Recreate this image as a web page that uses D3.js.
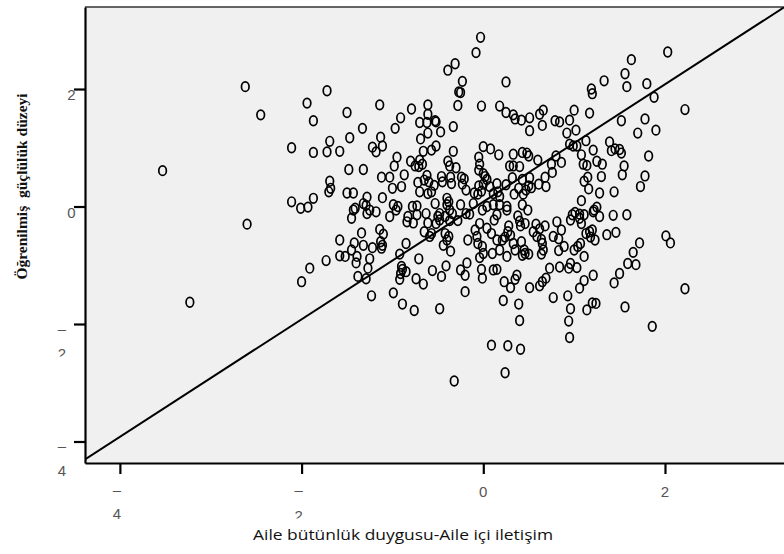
<!DOCTYPE html>
<html>
<head>
<meta charset="utf-8">
<script src="https://cdn.jsdelivr.net/npm/d3@7"></script>
<style>
  html, body { margin: 0; padding: 0; background: #fff; }
  svg { display: block; }
  .tick-label { font-family: "Liberation Sans", Arial, sans-serif; font-size: 15px; fill: #555; }
  .x-title { font-family: "Open Sans", sans-serif; font-size: 15px; fill: #111; }
  .y-title { font-family: "Liberation Serif", "Times New Roman", serif; font-size: 15.5px; font-weight: bold; fill: #111; white-space: pre; }
</style>
</head>
<body>
<div id="chart"></div>
<script>
// x: Aile bütünlük duygusu-Aile içi iletişim, y: Öğrenilmiş güçlülük düzeyi
const pointsSparse = [
  [-3.53, 0.61], [-3.23, -1.63], [-2.62, 2.04], [-2.45, 1.56], [-2.60, -0.30],
  [-2.11, 1.00], [-1.94, 1.76], [-1.72, 1.97], [-1.87, 1.46], [-1.87, 0.92],
  [-1.72, 0.93], [-1.69, 1.11], [-2.11, 0.08], [-2.01, -0.03], [-1.93, -0.01],
  [-1.87, 0.14], [-2.00, -1.28], [-1.91, -1.05], [-1.73, -0.92], [-1.69, 0.43],
  [-1.68, 0.31], [-1.70, 0.25]
];
const pointsUpperLeft = [
  [-0.03, 2.88], [-0.08, 2.62], [-0.31, 2.43], [-0.39, 2.32], [-0.23, 2.13],
  [-0.27, 1.95], [-0.25, 1.94], [-0.28, 1.72], [-0.02, 1.71], [0.18, 1.71],
  [-1.14, 1.73], [-1.50, 1.60], [-0.79, 1.66], [-0.61, 1.73], [-0.91, 1.51],
  [-0.61, 1.57], [-0.70, 1.43], [-0.62, 1.43], [-0.53, 1.46], [-0.52, 1.44],
  [-0.97, 1.33], [-1.33, 1.33], [-0.33, 1.36], [-0.47, 1.27], [-0.61, 1.25],
  [-0.69, 1.15], [-1.13, 1.18], [-1.47, 1.17], [-1.22, 1.01], [-1.11, 1.03],
  [-1.18, 0.93], [-1.58, 0.94], [-0.52, 1.03], [-0.57, 0.96], [-0.66, 0.94],
  [-0.33, 0.94], [0.00, 1.02], [0.08, 0.98], [0.17, 0.88], [-0.05, 0.84],
  [-0.95, 0.84], [-0.98, 0.69], [-0.80, 0.77], [-0.70, 0.79], [-0.67, 0.72],
  [-0.71, 0.68], [-0.75, 0.69], [-0.39, 0.77], [-0.37, 0.69], [-0.30, 0.66],
  [-0.04, 0.72], [-0.05, 0.62], [0.00, 0.56], [-1.48, 0.63], [-1.32, 0.63],
  [-1.12, 0.50], [-1.03, 0.50], [-0.87, 0.54], [-0.62, 0.53], [-0.65, 0.45],
  [-0.60, 0.42], [-0.72, 0.41], [-0.46, 0.51], [-0.45, 0.42], [-0.36, 0.50],
  [-0.35, 0.39], [-0.24, 0.50], [-0.21, 0.47], [-0.23, 0.38], [-0.19, 0.28],
  [0.02, 0.51], [0.04, 0.46], [0.15, 0.39], [-0.05, 0.35], [0.00, 0.38],
  [0.07, 0.34], [-0.90, 0.34], [-1.00, 0.31], [-0.54, 0.36], [-0.57, 0.25],
  [-0.61, 0.22], [-0.70, 0.25], [-1.50, 0.23], [-1.43, 0.23], [-1.28, 0.16],
  [-1.11, 0.15], [-0.10, 0.23], [-0.06, 0.21], [-0.02, 0.26], [0.11, 0.22],
  [0.16, 0.25], [0.18, 0.17], [-0.40, 0.14], [-0.38, 0.08]
];
const pointsUpperRight = [
  [2.03, 2.63], [1.63, 2.50], [1.56, 2.26], [1.33, 2.14], [1.58, 2.04],
  [1.80, 2.09], [1.88, 1.86], [1.19, 2.00], [1.20, 1.92], [0.25, 2.12],
  [2.22, 1.65], [0.25, 1.60], [0.33, 1.56], [0.35, 1.49], [0.42, 1.47],
  [0.51, 1.51], [0.51, 1.29], [0.62, 1.57], [0.66, 1.64], [0.65, 1.38],
  [0.79, 1.46], [0.84, 1.44], [0.95, 1.47], [1.00, 1.64], [1.17, 1.59],
  [1.02, 1.30], [0.92, 1.25], [1.52, 1.46], [1.78, 1.49], [1.70, 1.25],
  [1.90, 1.30], [0.95, 1.06], [0.99, 1.03], [1.03, 1.03], [1.13, 1.12],
  [1.21, 0.96], [1.39, 1.10], [1.41, 0.95], [1.45, 0.98], [1.50, 0.97],
  [1.52, 0.91], [1.08, 0.88], [1.10, 0.72], [1.14, 0.70], [1.25, 0.77],
  [1.31, 0.72], [1.82, 0.86], [1.55, 0.69], [1.53, 0.54], [1.78, 0.52],
  [1.73, 0.34], [1.30, 0.51], [1.28, 0.23], [1.44, 0.25], [1.15, 0.50],
  [1.11, 0.43], [1.16, 0.30], [0.80, 0.86], [0.75, 0.72], [0.86, 0.75],
  [0.60, 0.79], [0.33, 0.89], [0.43, 0.92], [0.48, 0.91], [0.50, 0.86],
  [0.29, 0.69], [0.33, 0.69], [0.40, 0.68], [0.32, 0.49], [0.43, 0.46],
  [0.51, 0.49], [0.68, 0.50], [0.76, 0.58], [0.61, 0.38], [0.69, 0.34],
  [0.50, 0.35], [0.47, 0.28], [0.44, 0.21], [0.53, 0.32], [0.25, 0.37],
  [0.34, 0.21], [0.39, 0.31]
];
const pointsLowerRight = [
  [1.08, 0.10], [0.18, 0.03], [0.26, 0.00], [0.26, -0.06], [0.43, 0.03],
  [0.49, -0.06], [0.38, -0.16], [0.40, -0.25], [0.46, -0.29], [0.41, -0.33],
  [0.28, -0.33], [0.27, -0.43], [0.24, -0.52], [0.21, -0.57], [0.30, -0.49],
  [0.33, -0.63], [0.35, -0.74], [0.26, -0.85], [0.18, -0.74], [0.42, -0.60],
  [0.45, -0.74], [0.46, -0.80], [0.50, -0.81], [0.43, -0.83], [0.58, -0.30],
  [0.55, -0.43], [0.59, -0.51], [0.62, -0.38], [0.68, -0.33], [0.64, -0.56],
  [0.65, -0.63], [0.66, -0.74], [0.64, -0.81], [0.77, -0.51], [0.83, -0.55],
  [0.86, -0.40], [0.81, -0.26], [0.89, -0.68], [0.83, -0.75], [0.98, -0.14],
  [0.96, -0.23], [1.01, -0.10], [1.06, -0.13], [1.08, -0.29], [1.06, -0.20],
  [1.11, -0.14], [1.21, -0.09], [1.28, -0.17], [1.25, -0.01], [1.22, -0.06],
  [1.13, -0.46], [1.17, -0.43], [1.18, -0.52], [1.20, -0.40], [1.23, -0.57],
  [1.07, -0.63], [1.04, -0.68], [1.00, -0.74], [1.36, -0.48], [1.46, -0.44],
  [1.43, -0.15], [1.58, -0.14], [1.11, -0.85], [0.73, -1.05], [0.84, -1.03],
  [0.94, -1.05], [1.03, -1.04], [0.96, -0.97], [0.37, -1.17], [0.35, -1.24],
  [0.30, -1.38], [0.23, -1.28], [0.51, -1.38], [0.62, -1.35], [0.65, -1.28],
  [0.69, -1.22], [1.21, -1.17], [1.11, -1.26], [1.06, -1.39], [0.77, -1.55],
  [0.93, -1.52], [0.22, -1.60], [0.39, -1.66], [0.96, -1.74], [0.94, -1.95],
  [0.95, -2.23], [1.14, -1.76], [1.20, -1.64], [1.24, -1.65], [0.40, -1.94],
  [0.27, -2.37], [0.41, -2.43], [0.24, -2.83], [1.72, -0.62], [1.65, -0.78],
  [1.59, -0.97], [1.68, -0.99], [1.50, -1.14], [1.44, -1.30], [2.01, -0.50],
  [2.06, -0.62], [2.22, -1.40], [1.56, -1.71], [1.86, -2.04]
];
const pointsLowerLeft = [
  [-1.58, -0.57], [-1.58, -0.84], [-1.52, -0.85], [-1.45, -0.74], [-1.42, -0.62],
  [-1.40, -0.96], [-1.39, -0.85], [-1.34, -0.45], [-1.32, -0.66], [-1.25, -0.89],
  [-1.22, -0.70], [-1.27, -1.05], [-1.29, -1.23], [-1.38, -1.19], [-1.23, -1.52],
  [-1.14, -0.39], [-1.10, -0.47], [-1.13, -0.60], [-1.11, -0.66], [-1.12, -0.71],
  [-0.85, -0.63], [-0.92, -0.81], [-0.71, -0.89], [-0.90, -1.02], [-0.89, -1.07],
  [-0.91, -1.14], [-0.92, -1.24], [-0.85, -1.11], [-0.74, -1.23], [-0.66, -1.32],
  [-0.99, -1.47], [-0.89, -1.66], [-0.76, -1.77], [-0.48, -1.74], [-0.56, -1.09],
  [-0.46, -1.19], [-0.41, -1.01], [-0.65, -0.43], [-0.59, -0.51], [-0.57, -0.46],
  [-0.44, -0.66], [-0.40, -0.57], [-0.36, -0.76], [-0.42, -0.46], [-0.38, -0.51],
  [-0.52, -0.29], [-0.48, -0.23], [-0.42, -0.17], [-0.37, -0.24], [-0.34, -0.12],
  [-0.28, -0.24], [-0.25, -1.08], [-0.20, -1.45], [-0.18, -0.96], [-0.20, -1.17],
  [-0.17, -0.57], [-0.07, -0.51], [-0.06, -0.63], [-0.01, -0.68], [0.00, -0.80],
  [-0.04, -0.87], [-0.09, -0.40], [-0.04, -0.29], [0.04, -0.37], [0.09, -0.46],
  [0.10, -0.80], [0.15, -0.57], [0.12, -0.23], [-0.02, -1.07], [-0.01, -1.22],
  [0.11, -1.08], [0.15, -1.07], [0.09, -2.36], [-0.32, -2.97], [-1.28, -0.12],
  [-1.25, -0.06], [-1.18, -0.09], [-1.03, -0.17], [-0.83, -0.17], [-0.84, -0.26],
  [-0.77, -0.28], [-0.73, -0.14], [-0.63, -0.12], [-0.61, -0.28], [-0.50, -0.17],
  [-0.48, -0.12], [-0.37, -0.06], [-0.19, -0.12], [-0.15, -0.13], [-0.01, -0.06],
  [0.15, -0.14], [-1.41, -0.03], [-1.43, -0.06], [-1.32, 0.05], [-0.99, 0.03],
  [-0.96, -0.06], [-0.94, 0.00], [-0.78, 0.00], [-0.73, 0.01], [-0.53, 0.05],
  [-0.40, 0.03], [-0.25, 0.03], [-0.11, 0.05], [0.04, 0.00], [0.11, 0.03],
  [-1.45, -0.20], [-1.29, 0.02]
];
const allPoints = [].concat(pointsSparse, pointsUpperLeft, pointsUpperRight, pointsLowerRight, pointsLowerLeft);

const xTicks = [-4, -2, 0, 2];
const yTicks = [2, 0, -2, -4];
const refLine = { intercept: 0.08, slope: 1 };
const xTitle = 'Aile bütünlük duygusu-Aile içi iletişim';
const yTitle = 'Öğrenilmiş  güçlülük düzeyi';

const W = 784;
const H = 554;
const plotLeft = 85;
const plotRight = 784;
const plotTop = 7;
const plotBottom = 463;

const x = d3.scaleLinear().domain([-4.384, 3.31]).range([plotLeft, plotRight]);
const y = d3.scaleLinear().domain([-4.366, 3.396]).range([plotBottom, plotTop]);

const svg = d3.select('#chart').append('svg').attr('width', W).attr('height', H);

const defs = svg.append('defs');
defs.append('clipPath').attr('id', 'plot-clip')
  .append('rect')
  .attr('x', plotLeft).attr('y', plotTop)
  .attr('width', plotRight - plotLeft).attr('height', plotBottom - plotTop);

// plot background
svg.append('rect')
  .attr('x', plotLeft).attr('y', plotTop)
  .attr('width', plotRight - plotLeft).attr('height', plotBottom - plotTop)
  .attr('fill', '#f0f0f0');

// top frame
svg.append('line')
  .attr('x1', plotLeft).attr('x2', plotRight)
  .attr('y1', plotTop).attr('y2', plotTop)
  .attr('stroke', '#333').attr('stroke-width', 1.5);

const $vis = svg.append('g').attr('clip-path', 'url(#plot-clip)');

// reference line
const [xd0, xd1] = x.domain();
$vis.append('line')
  .attr('x1', x(xd0)).attr('y1', y(refLine.intercept + refLine.slope * xd0))
  .attr('x2', x(xd1)).attr('y2', y(refLine.intercept + refLine.slope * xd1))
  .attr('stroke', '#000').attr('stroke-width', 2);

$vis.selectAll('ellipse')
  .data(allPoints)
  .join('ellipse')
  .attr('cx', d => x(d[0]))
  .attr('cy', d => y(d[1]))
  .attr('rx', 3.8)
  .attr('ry', 4.8)
  .attr('fill', 'none')
  .attr('stroke', '#000')
  .attr('stroke-width', 1.7);

// axes
const $xAxis = svg.append('g')
  .attr('transform', `translate(0,${plotBottom})`)
  .call(d3.axisBottom(x).tickValues(xTicks).tickSize(11).tickSizeOuter(0).tickFormat(''));
const $yAxis = svg.append('g')
  .attr('transform', `translate(${plotLeft},0)`)
  .call(d3.axisLeft(y).tickValues(yTicks).tickSize(11).tickSizeOuter(0).tickFormat(''));
[$xAxis, $yAxis].forEach($a => {
  $a.select('.domain').attr('stroke', '#000').attr('stroke-width', 2.2);
  $a.selectAll('.tick line').attr('stroke', '#000').attr('stroke-width', 2.2);
});

// tick labels: the minus sign wraps onto its own line, like the original
const $labels = svg.append('g').attr('class', 'tick-label');
let clipId = 0;
function digitClip(cx, bottom) {
  const id = `digit-clip-${clipId++}`;
  defs.append('clipPath').attr('id', id)
    .append('rect').attr('x', cx - 10).attr('y', bottom - 20).attr('width', 20).attr('height', 20);
  return `url(#${id})`;
}

xTicks.forEach(v => {
  const px = x(v);
  if (v < 0) {
    $labels.append('text').attr('x', px - 3).attr('y', 495).attr('text-anchor', 'middle').text('–');
    const base = v === -2 ? 521 : 518.5;
    const $t = $labels.append('text').attr('x', px - 3).attr('y', base).attr('text-anchor', 'middle').text(Math.abs(v));
    if (v === -2) $t.attr('clip-path', digitClip(px - 3, 518.5));
  } else {
    $labels.append('text').attr('x', px).attr('y', 496.5).attr('text-anchor', 'middle').text(v);
  }
});

yTicks.forEach(v => {
  const py = y(v);
  if (v < 0) {
    $labels.append('text').attr('x', 62).attr('y', py + 9.5).attr('text-anchor', 'middle').text('–');
    const $t = $labels.append('text').attr('x', 62).attr('y', py + 34.5).attr('text-anchor', 'middle').text(Math.abs(v));
    if (v === -2) $t.attr('clip-path', digitClip(62, py + 32.5));
  } else {
    $labels.append('text').attr('x', 75.5).attr('y', py + 11).attr('text-anchor', 'end').text(v);
  }
});

// titles
svg.append('text')
  .attr('class', 'x-title')
  .attr('x', 403).attr('y', 540)
  .attr('text-anchor', 'middle')
  .attr('textLength', 300)
  .attr('lengthAdjust', 'spacingAndGlyphs')
  .text(xTitle);

svg.append('text')
  .attr('class', 'y-title')
  .attr('transform', 'translate(27,186.5) rotate(-90)')
  .attr('text-anchor', 'middle')
  .text(yTitle);
</script>
</body>
</html>
